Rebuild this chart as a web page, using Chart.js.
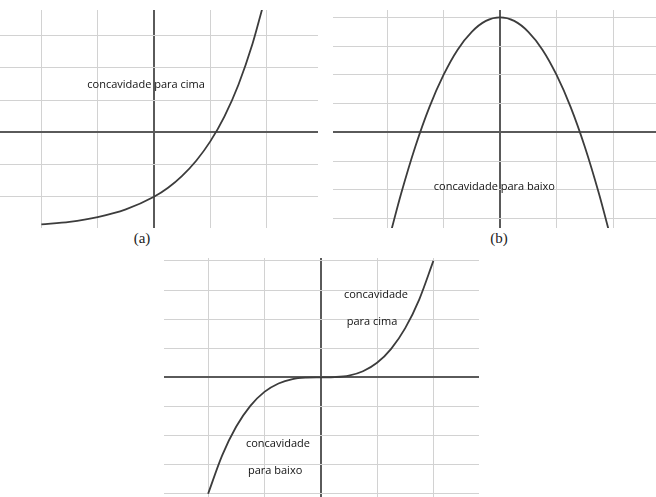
<!DOCTYPE html>
<html>
<head>
<meta charset="utf-8">
<script src="https://cdn.jsdelivr.net/npm/chart.js@4"></script>
<style>
  html, body { margin: 0; padding: 0; background: #ffffff; }
  body { width: 656px; height: 497px; position: relative; overflow: hidden; }
  canvas { position: absolute; display: block; }
  .cap { position: absolute; font-family: "Liberation Serif", "DejaVu Serif", serif; font-size: 15px; color: #222; line-height: 15px; transform: translateX(-50%); }
</style>
</head>
<body>
<canvas id="ca" width="318" height="218" style="left:0px;top:10px"></canvas>
<canvas id="cb" width="323" height="218" style="left:333px;top:10px"></canvas>
<canvas id="cc" width="315" height="239" style="left:164px;top:258px"></canvas>
<div class="cap" style="left:142px;top:231px">(a)</div>
<div class="cap" style="left:499px;top:231px">(b)</div>
<script>
// ---- data ----
// (a) concave up: increasing curve
const xA = [-2, -1.5, -1, -0.5, 0, 0.25, 0.5, 0.75, 1, 1.25, 1.5, 1.75, 1.92];
const yA = [-2.86, -2.78, -2.63, -2.39, -2.0, -1.72, -1.35, -0.88, -0.28, 0.49, 1.48, 2.75, 3.82];
// (b) concave down: parabola-like arch
const xB = [-1.96, -1.75, -1.5, -1.25, -1, -0.75, -0.5, -0.25, 0, 0.25, 0.5, 0.75, 1, 1.25, 1.5, 1.75, 1.96];
const yB = [-3.68, -2.13, -0.5, 0.88, 2.0, 2.88, 3.5, 3.88, 4.0, 3.88, 3.5, 2.88, 2.0, 0.88, -0.5, -2.13, -3.68];
// (c) inflection at origin
const xC = [-2, -1.75, -1.5, -1.25, -1, -0.75, -0.5, -0.25, 0, 0.25, 0.5, 0.75, 1, 1.25, 1.5, 1.75, 2];
const yC = [-4.0, -2.68, -1.69, -0.98, -0.5, -0.21, -0.06, -0.01, 0, 0.01, 0.06, 0.21, 0.5, 0.98, 1.69, 2.68, 4.0];
// visible axis windows
const rangeA = { xmin: -2.735, xmax: 2.913, ymin: -2.97, ymax: 3.80 };
const rangeB = { xmin: -2.956, xmax: 2.76, ymin: -3.33, ymax: 4.26 };
const rangeC = { xmin: -2.783, xmax: 2.81, ymin: -4.11, ymax: 4.10 };
// annotations: text, x, y (data units)
const notesA = [["concavidade para cima", -0.14, 1.47]];
const notesB = [["concavidade para baixo", -0.1, -1.9]];
const notesC = [["concavidade", 0.98, 2.85], ["para cima", 0.91, 1.91], ["concavidade", -0.76, -2.27], ["para baixo", -0.81, -3.21]];

const notePlugin = {
  id: 'notes',
  afterDatasetsDraw(chart, args, opts) {
    const ctx = chart.ctx;
    const xs = chart.scales.x, ys = chart.scales.y;
    ctx.save();
    ctx.font = '11px "Open Sans", "Noto Sans", sans-serif';
    ctx.fillStyle = '#111111';
    ctx.textAlign = 'center';
    ctx.textBaseline = 'middle';
    (opts.items || []).forEach(([t, x, y]) => {
      ctx.fillText(t, xs.getPixelForValue(x), ys.getPixelForValue(y));
    });
    ctx.restore();
  }
};

function gridOpts() {
  return {
    drawTicks: false,
    color: c => (c.tick && c.tick.value === 0) ? '#5a5a5a' : '#d2d2d2',
    lineWidth: c => (c.tick && c.tick.value === 0) ? 2 : 1
  };
}

function makeChart(id, xs, ys, range, notes) {
  const pts = xs.map((x, i) => ({ x: x, y: ys[i] }));
  return new Chart(document.getElementById(id), {
    type: 'line',
    data: {
      datasets: [{
        data: pts,
        borderColor: '#3c3c3c',
        borderWidth: 1.8,
        pointRadius: 0,
        fill: false,
        cubicInterpolationMode: 'monotone'
      }]
    },
    options: {
      responsive: false,
      animation: false,
      layout: { padding: 0 },
      plugins: { legend: { display: false }, tooltip: { enabled: false }, notes: { items: notes } },
      scales: {
        x: {
          type: 'linear', min: range.xmin, max: range.xmax,
          ticks: { display: false, stepSize: 1, includeBounds: false },
          border: { display: false },
          grid: gridOpts()
        },
        y: {
          type: 'linear', min: range.ymin, max: range.ymax,
          ticks: { display: false, stepSize: 1, includeBounds: false },
          border: { display: false },
          grid: gridOpts()
        }
      }
    },
    plugins: [notePlugin]
  });
}

makeChart('ca', xA, yA, rangeA, notesA);
makeChart('cb', xB, yB, rangeB, notesB);
makeChart('cc', xC, yC, rangeC, notesC);
</script>
</body>
</html>
